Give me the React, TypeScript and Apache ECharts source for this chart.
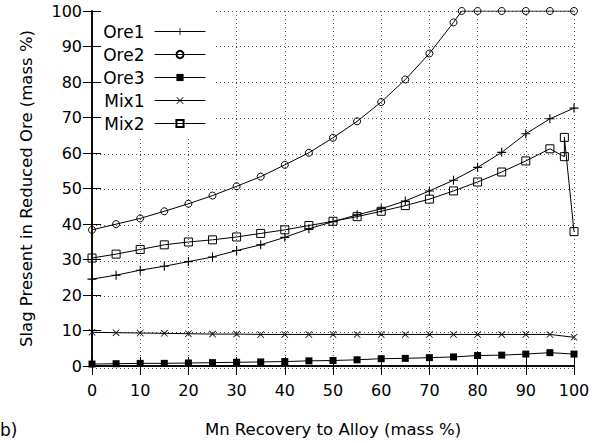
import React, { useEffect, useRef } from "react";
import * as echarts from "echarts";

const recovery = [0, 5, 10, 15, 20, 25, 30, 35, 40, 45, 50, 55, 60, 65, 70, 75, 80, 85, 90, 95, 100];
const ore1 = [24.9, 26.0, 27.4, 28.5, 29.8, 31.1, 32.9, 34.5, 36.6, 39.0, 41.0, 42.9, 44.6, 46.8, 49.6, 52.6, 56.2, 60.4, 65.6, 69.8, 72.8];
const ore2X = [0, 5, 10, 15, 20, 25, 30, 35, 40, 45, 50, 55, 60, 65, 70, 75, 76.7, 80, 85, 90, 95, 100];
const ore2 = [38.7, 40.3, 41.9, 43.9, 46.0, 48.3, 50.9, 53.6, 56.9, 60.3, 64.5, 69.1, 74.5, 80.8, 88.1, 96.8, 100, 100, 100, 100, 100, 100];
const ore3 = [1.1, 1.2, 1.3, 1.3, 1.4, 1.5, 1.6, 1.7, 1.8, 2.0, 2.1, 2.3, 2.6, 2.7, 2.9, 3.1, 3.5, 3.6, 3.9, 4.3, 3.9];
const mix1 = [10.0, 9.9, 9.8, 9.7, 9.6, 9.5, 9.5, 9.4, 9.4, 9.4, 9.4, 9.4, 9.4, 9.4, 9.4, 9.4, 9.4, 9.4, 9.4, 9.4, 8.6];
const mix2X = [0, 5, 10, 15, 20, 25, 30, 35, 40, 45, 50, 55, 60, 65, 70, 75, 80, 85, 90, 95, 98, 98, 100];
const mix2 = [30.8, 31.9, 33.2, 34.5, 35.3, 35.9, 36.7, 37.7, 38.7, 39.9, 41.1, 42.4, 43.9, 45.5, 47.3, 49.6, 52.1, 54.9, 58.0, 61.4, 59.2, 64.6, 38.2];

const seriesNames = ["Ore1", "Ore2", "Ore3", "Mix1", "Mix2"];
const xTitle = "Mn Recovery to Alloy (mass %)";
const yTitle = "Slag Present in Reduced Ore (mass %)";
const panelLabel = "b)";

const FONT = "DejaVu Sans";
const PLUS = "path://M0,4.4H10V5.6H0Z M4.4,0H5.6V10H4.4Z";
const CROSS = "path://M0.8,0L10,9.2L9.2,10L0,0.8Z M9.2,0L10,0.8L0.8,10L0,9.2Z";

const zip = (xs: number[], ys: number[]) => xs.map((x, i) => [x, ys[i]]);

export default function App() {
  const ref = useRef<HTMLDivElement>(null);
  useEffect(() => {
    if (!ref.current) return;
    const chart = echarts.init(ref.current, undefined, { renderer: "svg" });
    const gridRect = { left: 92, right: 27, top: 11, bottom: 75 };
    const frameAxisCommon = {
      type: "value" as const,
      min: 0,
      max: 100,
      interval: 10,
      axisLine: { show: true, lineStyle: { color: "#000", width: 1.5 } },
      axisTick: { show: true, inside: true, length: 9, lineStyle: { color: "#000", width: 1 } },
      splitLine: { show: false },
      z: 10,
    };
    const line = (name: string, data: number[][], symbol: string, size: number, filled: boolean) => ({
      name,
      type: "line",
      xAxisIndex: 0,
      yAxisIndex: 0,
      data,
      symbol,
      symbolSize: size,
      showSymbol: true,
      lineStyle: { color: "#000", width: 1 },
      itemStyle: filled
        ? { color: "#000" }
        : { color: "rgba(0,0,0,0)", borderColor: "#000", borderWidth: 1 },
      emphasis: { disabled: true },
      z: 3,
    });
    chart.setOption({
      animation: false,
      backgroundColor: "#fff",
      textStyle: { fontFamily: FONT },
      grid: [
        { ...gridRect },
        { ...gridRect },
      ],
      legend: {
        data: seriesNames,
        orient: "vertical",
        align: "right",
        right: 388,
        top: 11,
        padding: [12, 7, 7, 10],
        itemWidth: 51,
        itemHeight: 9,
        itemGap: 6,
        backgroundColor: "#fff",
        lineStyle: { width: 1, color: "#000" },
        textStyle: { fontSize: 17, fontFamily: FONT, color: "#000", padding: [0, 5, 0, 0] },
        selectedMode: false,
        z: 4,
      },
      xAxis: [
        {
          gridIndex: 0,
          type: "value",
          min: 0,
          max: 100,
          interval: 10,
          axisLine: { show: false },
          axisTick: { show: false },
          axisLabel: { show: false },
          splitLine: { show: true, lineStyle: { color: "#555", width: 1, type: [1, 3] } },
          z: 0,
        },
        {
          ...frameAxisCommon,
          gridIndex: 1,
          position: "bottom",
          axisLabel: { show: true, fontSize: 16, color: "#000", fontFamily: FONT, margin: 16 },
          name: xTitle,
          nameLocation: "middle",
          nameGap: 55,
          nameTextStyle: { fontSize: 16.5, color: "#000", fontFamily: FONT },
        },
        {
          ...frameAxisCommon,
          gridIndex: 1,
          position: "top",
          axisLabel: { show: false },
        },
      ],
      yAxis: [
        {
          gridIndex: 0,
          type: "value",
          min: 0,
          max: 100,
          interval: 10,
          axisLine: { show: false },
          axisTick: { show: false },
          axisLabel: { show: false },
          splitLine: { show: true, lineStyle: { color: "#555", width: 1, type: [1, 3] } },
          z: 0,
        },
        {
          ...frameAxisCommon,
          gridIndex: 1,
          position: "left",
          axisLabel: { show: true, fontSize: 16, color: "#000", fontFamily: FONT, margin: 10 },
          name: yTitle,
          nameLocation: "middle",
          nameGap: 57,
          nameRotate: 90,
          nameTextStyle: { fontSize: 16.5, color: "#000", fontFamily: FONT },
        },
        {
          ...frameAxisCommon,
          gridIndex: 1,
          position: "right",
          axisLabel: { show: false },
        },
      ],
      graphic: [
        {
          type: "text",
          left: 0,
          top: 421,
          style: { text: panelLabel, fontSize: 17, fontFamily: FONT, fill: "#000" },
        },
      ],
      series: [
        line("Ore1", zip(recovery, ore1), PLUS, 9, true),
        line("Ore2", zip(ore2X, ore2), "circle", 7, false),
        line("Ore3", zip(recovery, ore3), "rect", 7, true),
        line("Mix1", zip(recovery, mix1), CROSS, 7, true),
        line("Mix2", zip(mix2X, mix2), "rect", 8, false),
      ],
    });
    return () => chart.dispose();
  }, []);
  return (
    <div
      ref={ref}
      style={{ position: "fixed", left: 0, top: 0, width: 601, height: 443 }}
    />
  );
}
